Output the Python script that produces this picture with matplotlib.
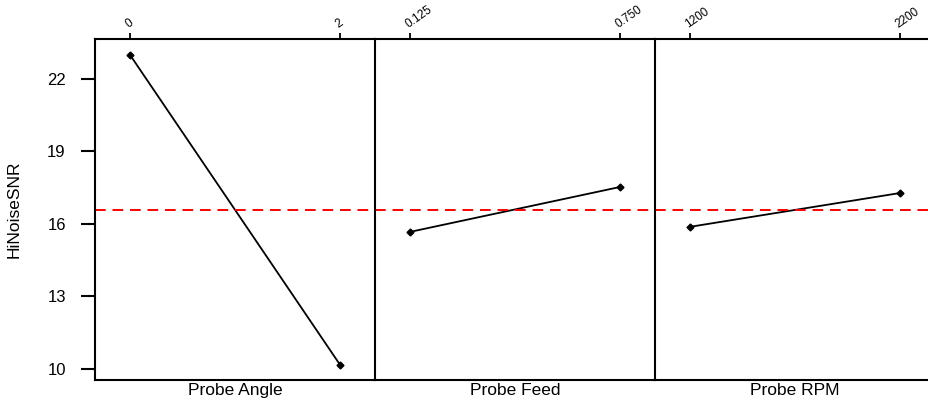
import matplotlib.pyplot as plt
import matplotlib.transforms as mtransforms

plt.rcParams['font.family'] = ['Liberation Sans', 'DejaVu Sans']

factors = ['Probe Angle', 'Probe Feed', 'Probe RPM']
levels = [['0', '2'], ['0.125', '0.750'], ['1200', '2200']]
means = [[23.0, 10.17], [15.67, 17.53], [15.88, 17.28]]
grand_mean = 16.58
yticks = [10, 13, 16, 19, 22]

W, H = 929, 405
fig = plt.figure(figsize=(W / 100, H / 100), dpi=100)

left0, top, bottom, pw = 95, 39, 380, 280
for i, (name, lv, m) in enumerate(zip(factors, levels, means)):
    ax = fig.add_axes([(left0 + i * pw) / W, (H - bottom) / H, pw / W, (bottom - top) / H])
    x = range(len(lv))
    ax.plot(x, m, '-', color='black', lw=1.3, marker='D', ms=3.5, mfc='black', mec='black')
    ax.axhline(grand_mean, color='#ff0000', ls=(0, (5.5, 3.5)), lw=1.4)
    ax.set_xlim(-0.166, 1.166)
    ax.set_ylim(9.545, 23.65)
    ax.xaxis.tick_top()
    ax.set_xticks(list(x))
    ax.set_xticklabels(lv, rotation=35, ha='left', va='bottom', rotation_mode='anchor', fontsize=8.5)
    off = mtransforms.ScaledTranslation(-4 / 100, 0, fig.dpi_scale_trans)
    for lab in ax.get_xticklabels():
        lab.set_transform(lab.get_transform() + off)
    ax.tick_params(axis='x', direction='out', length=4, width=1.3, pad=2)
    ax.xaxis.set_label_position('bottom')
    ax.set_xlabel(name, fontsize=12.5, labelpad=2.5)
    for s in ax.spines.values():
        s.set_linewidth(1.5)
    ax.spines['right'].set_visible(i == 2)
    if i == 0:
        ax.set_yticks(yticks)
        ax.tick_params(axis='y', direction='out', length=10, width=1.5, labelsize=12, pad=11)
        ax.set_ylabel('HiNoiseSNR', fontsize=12.5, labelpad=18)
    else:
        ax.set_yticks([])

fig.savefig('out.png', dpi=100)
